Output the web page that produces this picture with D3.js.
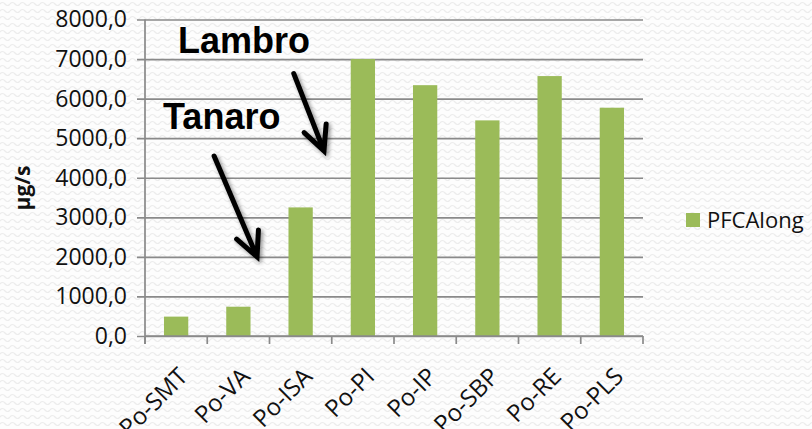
<!DOCTYPE html>
<html>
<head>
<meta charset="utf-8">
<script src="https://cdn.jsdelivr.net/npm/d3@7"></script>
<style>
  html, body { margin: 0; padding: 0; background: #fff; }
  svg { display: block; }
</style>
</head>
<body>
<div id="chart"></div>
<script>
// dati
const stations = ["Po-SMT", "Po-VA", "Po-ISA", "Po-PI", "Po-IP", "Po-SBP", "Po-RE", "Po-PLS"];
const pfcaLong = [490, 740, 3250, 7000, 6340, 5450, 6570, 5770];
const yTicks = [0, 1000, 2000, 3000, 4000, 5000, 6000, 7000, 8000];
const seriesName = "PFCAlong";
const yTitle = "µg/s";

// annotazioni (x = indice categoria, y = valore)
const labels = [
  { text: "Lambro", x: 0.53, y: 7150 },
  { text: "Tanaro", x: 0.29, y: 5230 }
];
const arrows = [
  { from: [2.39, 6630], to: [2.875, 4680] },
  { from: [1.11, 4550], to: [1.80, 2000] }
];

const width = 812, height = 429;
const margin = { top: 19.5, left: 145, right: 169, bottom: 93 };
const plotW = width - margin.left - margin.right;
const plotH = height - margin.top - margin.bottom;
const font = "'Open Sans', 'Noto Sans', sans-serif";
const gridColor = "#8a8a8a";

const svg = d3.select("#chart").append("svg")
  .attr("width", width)
  .attr("height", height);

// sfondo con texture ondulata
const defs = svg.append("defs");
const pat = defs.append("pattern")
  .attr("id", "waves")
  .attr("patternUnits", "userSpaceOnUse")
  .attr("width", 10)
  .attr("height", 7);
pat.append("rect").attr("width", 10).attr("height", 7).attr("fill", "#fdfdfd");
pat.append("path")
  .attr("d", "M0,4 Q2.5,1 5,4 T10,4")
  .attr("fill", "none")
  .attr("stroke", "#ececec")
  .attr("stroke-width", 1.2);

const shadow = defs.append("filter")
  .attr("id", "shadow")
  .attr("x", "-50%").attr("y", "-50%")
  .attr("width", "200%").attr("height", "200%");
shadow.append("feGaussianBlur").attr("in", "SourceAlpha").attr("stdDeviation", 2);
shadow.append("feOffset").attr("dx", 2).attr("dy", 2).attr("result", "off");
shadow.append("feComponentTransfer").append("feFuncA").attr("type", "linear").attr("slope", 0.45);
const merge = shadow.append("feMerge");
merge.append("feMergeNode");
merge.append("feMergeNode").attr("in", "SourceGraphic");

svg.append("rect")
  .attr("width", width)
  .attr("height", height)
  .attr("fill", "url(#waves)");

const g = svg.append("g")
  .attr("transform", `translate(${margin.left},${margin.top})`);

const x = d3.scaleBand()
  .domain(stations)
  .range([0, plotW])
  .paddingInner(0.61)
  .paddingOuter(0.305);

const xi = d3.scaleLinear().domain([0, stations.length]).range([0, plotW]);

const y = d3.scaleLinear()
  .domain([0, 8000])
  .range([plotH, 0]);

// griglia + asse y
const yAxis = g.append("g")
  .call(d3.axisLeft(y)
    .tickValues(yTicks)
    .tickSize(-plotW - 8)
    .tickSizeOuter(0)
    .tickPadding(18)
    .tickFormat(d => d3.format(".1f")(d).replace(".", ",")));
yAxis.select(".domain").remove();
yAxis.selectAll(".tick line")
  .attr("x1", -8)
  .attr("x2", plotW)
  .attr("stroke", gridColor)
  .attr("stroke-width", 1.7);
yAxis.selectAll(".tick text")
  .attr("font-family", font)
  .attr("font-size", 23)
  .attr("fill", "#111");

// barre
g.append("g")
  .selectAll("rect")
  .data(pfcaLong)
  .enter()
  .append("rect")
  .attr("x", (d, i) => x(stations[i]))
  .attr("y", d => y(d))
  .attr("width", x.bandwidth())
  .attr("height", d => plotH - y(d))
  .attr("fill", "#9bbb59");

// asse y verticale
g.append("line")
  .attr("x1", 0).attr("x2", 0)
  .attr("y1", 0).attr("y2", plotH + 8)
  .attr("stroke", gridColor)
  .attr("stroke-width", 1.7);

// asse x
const xAxis = g.append("g")
  .attr("transform", `translate(0,${plotH})`);
xAxis.append("line")
  .attr("x1", 0).attr("x2", plotW)
  .attr("stroke", gridColor)
  .attr("stroke-width", 1.7);
xAxis.selectAll(".xtick")
  .data(d3.range(stations.length + 1))
  .enter()
  .append("line")
  .attr("x1", d => xi(d)).attr("x2", d => xi(d))
  .attr("y1", 0).attr("y2", 8)
  .attr("stroke", gridColor)
  .attr("stroke-width", 1.7);
xAxis.selectAll("text")
  .data(stations)
  .enter()
  .append("text")
  .attr("transform", d => `translate(${x(d) + x.bandwidth() / 2 + 13},42) rotate(-45)`)
  .attr("text-anchor", "end")
  .attr("font-family", font)
  .attr("font-size", 24)
  .attr("fill", "#111")
  .text(d => d);

// titolo asse y
svg.append("text")
  .attr("transform", `translate(30,188) rotate(-90)`)
  .attr("text-anchor", "middle")
  .attr("font-family", font)
  .attr("font-weight", "bold")
  .attr("font-size", 21)
  .attr("fill", "#111")
  .text(yTitle);

// annotazioni
g.append("g")
  .selectAll("text")
  .data(labels)
  .enter()
  .append("text")
  .attr("x", d => xi(d.x))
  .attr("y", d => y(d.y))
  .attr("font-family", "'Liberation Sans', Arial, sans-serif")
  .attr("font-weight", "bold")
  .attr("font-size", 36)
  .attr("fill", "#000")
  .text(d => d.text);

const arrowG = g.append("g").attr("filter", "url(#shadow)");
arrows.forEach(a => {
  const x0 = xi(a.from[0]), y0 = y(a.from[1]);
  const x1 = xi(a.to[0]), y1 = y(a.to[1]);
  const ang = Math.atan2(y0 - y1, x0 - x1);
  const len = 27, half = 26 * Math.PI / 180;
  const p1 = [x1 + len * Math.cos(ang - half), y1 + len * Math.sin(ang - half)];
  const p2 = [x1 + len * Math.cos(ang + half), y1 + len * Math.sin(ang + half)];
  arrowG.append("path")
    .attr("d", `M${x0},${y0}L${x1},${y1}M${p1[0]},${p1[1]}L${x1},${y1}L${p2[0]},${p2[1]}`)
    .attr("fill", "none")
    .attr("stroke", "#000")
    .attr("stroke-width", 5)
    .attr("stroke-linejoin", "miter")
    .attr("stroke-linecap", "round");
});

// legenda
const leg = svg.append("g").attr("transform", "translate(686,213)");
leg.append("rect")
  .attr("width", 14)
  .attr("height", 14)
  .attr("fill", "#9bbb59");
leg.append("text")
  .attr("x", 21)
  .attr("y", 15)
  .attr("font-family", font)
  .attr("font-size", 22)
  .attr("fill", "#111")
  .text(seriesName);
</script>
</body>
</html>
